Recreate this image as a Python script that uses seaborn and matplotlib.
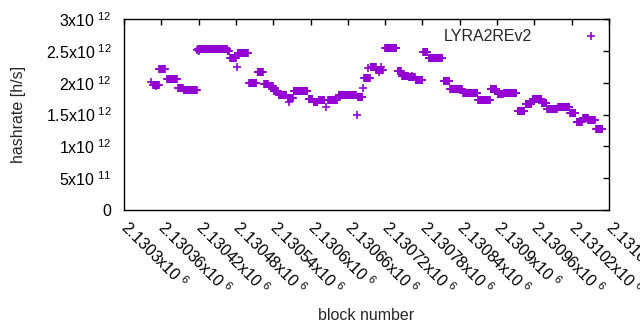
import numpy as np
import pandas as pd
import matplotlib
matplotlib.use('Agg')
import matplotlib.pyplot as plt
import seaborn as sns

base_block = 2130300

# runs of blocks with (almost) the same hashrate
run_first = [47, 57, 69, 87, 96, 119, 167, 171, 183, 201, 215, 225, 233, 241, 249,
             263, 273, 297, 305, 313, 328, 345, 376, 386, 397, 406, 420, 440, 447,
             458, 469, 481, 490, 514, 525, 545, 570, 590, 601, 611, 633, 646, 657,
             673, 681, 698, 718, 728, 738, 747, 759]
run_last = [56, 66, 85, 95, 117, 166, 169, 180, 199, 213, 223, 231, 239, 247, 261,
            271, 295, 303, 311, 322, 342, 373, 383, 395, 405, 416, 438, 445, 456,
            468, 480, 488, 512, 523, 543, 568, 588, 599, 609, 631, 644, 655, 671,
            679, 696, 716, 726, 736, 746, 757, 769]
run_rate = [1.97, 2.22, 2.06, 1.92, 1.89, 2.53, 2.50, 2.39, 2.47, 2.00, 2.17, 1.98,
            1.94, 1.87, 1.81, 1.76, 1.87, 1.75, 1.70, 1.73, 1.73, 1.81, 1.77, 2.08,
            2.25, 2.20, 2.54, 2.19, 2.11, 2.09, 2.04, 2.48, 2.38, 2.03, 1.90, 1.84,
            1.72, 1.90, 1.82, 1.83, 1.55, 1.66, 1.74, 1.68, 1.58, 1.61, 1.52, 1.39,
            1.45, 1.41, 1.28]

# odd single blocks
pt_block = [44, 52, 118, 121, 182, 265, 325, 374, 384, 392, 410, 414, 463]
pt_rate = [2.01, 1.95, 2.52, 2.50, 2.25, 1.69, 1.62, 1.50, 1.92, 2.23, 2.17, 2.25, 2.10]

blocks = []
rates = []
for a, b, r in zip(run_first, run_last, run_rate):
    for blk in range(a, b + 1):
        blocks.append(base_block + blk)
        rates.append(r * 1e12)
for blk, r in zip(pt_block, pt_rate):
    blocks.append(base_block + blk)
    rates.append(r * 1e12)

df = pd.DataFrame({'block': blocks, 'hashrate': rates})

sns.set_style('white')
plt.rcParams['font.family'] = ['Liberation Sans', 'DejaVu Sans']
plt.rcParams['mathtext.default'] = 'regular'
fs = 11.5

fig = plt.figure(figsize=(6.4, 3.3), dpi=100)
ax = fig.add_axes([124 / 640, 1 - 210 / 330, 485 / 640, 191 / 330])

sns.scatterplot(data=df, x='block', y='hashrate', ax=ax, marker='+', s=36,
                color='#9400d3', linewidth=1.2, label='LYRA2REv2')

xticks = np.arange(2130300, 2131081, 60)
ax.set_xlim(2130300, 2131080)
ax.set_xticks(xticks)
ax.set_xticklabels(['%gx10$^{\\ 6}$' % (t / 1e6) for t in xticks],
                   rotation=-45, ha='left', va='center', rotation_mode='anchor')

yticks = [0, 0.5e12, 1e12, 1.5e12, 2e12, 2.5e12, 3e12]
ylabels = ['0', '5x10$^{\\ 11}$', '1x10$^{\\ 12}$', '1.5x10$^{\\ 12}$',
           '2x10$^{\\ 12}$', '2.5x10$^{\\ 12}$', '3x10$^{\\ 12}$']
ax.set_ylim(0, 3e12)
ax.set_yticks(yticks)
ax.set_yticklabels(ylabels)

ax.tick_params(direction='in', length=4, width=1, top=True, right=True,
               labelsize=fs, colors='black')
ax.tick_params(axis='y', pad=9)
ax.tick_params(axis='x', pad=10)
for sp in ax.spines.values():
    sp.set_color('black')
    sp.set_linewidth(1)

ax.set_xlabel('block number', fontsize=fs, labelpad=7)
ax.set_ylabel('hashrate [h/s]', fontsize=fs, labelpad=14)

ax.legend(loc='upper right', markerfirst=False, frameon=False, fontsize=fs,
          handlelength=1, handletextpad=3.2, borderaxespad=0.2)

fig.savefig('out.png', dpi=100)
